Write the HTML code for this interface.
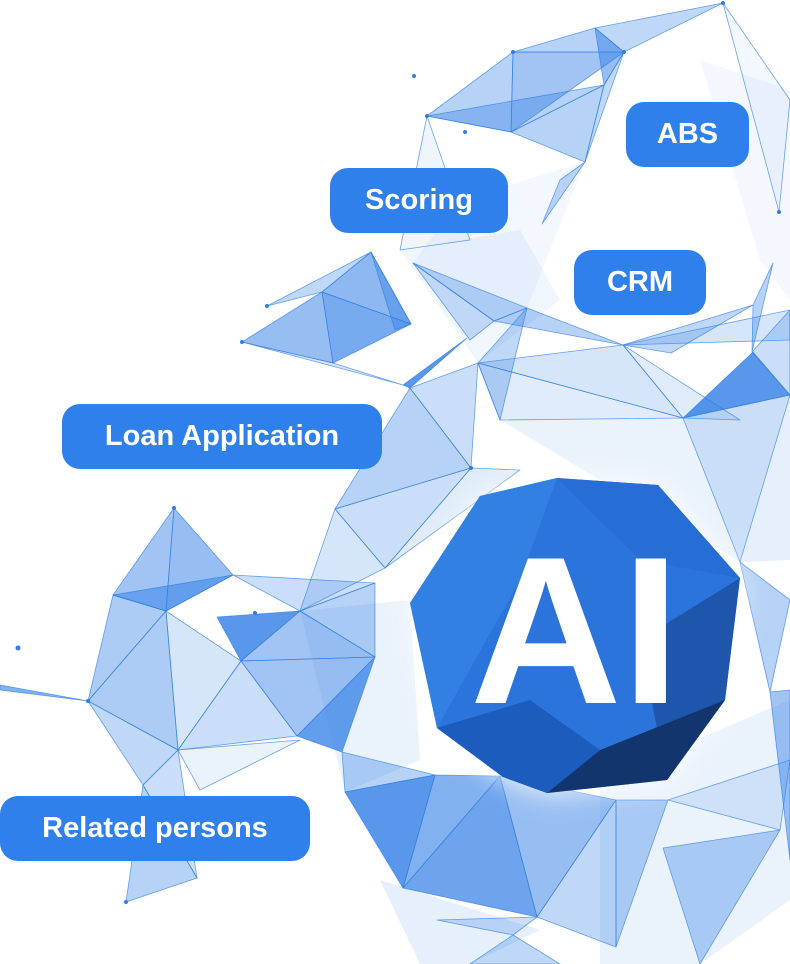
<!DOCTYPE html>
<html><head><meta charset="utf-8"><style>
html,body{margin:0;padding:0;background:#fff;}
body{width:790px;height:964px;position:relative;overflow:hidden;font-family:"Liberation Sans",sans-serif;}
svg{position:absolute;left:0;top:0;}
.lb{position:absolute;background:#2f80ea;color:#fff;font-weight:bold;font-size:29px;border-radius:18px;display:flex;align-items:center;justify-content:center;height:65px;}
</style></head><body>
<svg width="790" height="964" viewBox="0 0 790 964">
<defs><filter id="gl" x="-30%" y="-30%" width="160%" height="160%"><feGaussianBlur stdDeviation="14"/></filter></defs>
<g fill="#2f7de6" stroke="#2f7de6" stroke-width="0.8" stroke-opacity="0.7" stroke-linejoin="round">
<!-- soft background fills -->
<polygon points="400,250 520,230 560,300 478,363" fill-opacity="0.07" stroke="none"/>
<polygon points="500,420 683,418 740,562 600,480" fill-opacity="0.1" stroke="none"/>
<polygon points="683,418 790,395 790,560 740,562" fill-opacity="0.12" stroke="none"/>
<polygon points="300,611 410,600 420,760 345,792" fill-opacity="0.1" stroke="none"/>
<polygon points="600,780 790,700 790,900 700,964 600,964" fill-opacity="0.1" stroke="none"/>
<polygon points="380,880 540,930 470,964 420,964" fill-opacity="0.12" stroke="none"/>
<polygon points="700,60 790,90 790,300 760,260" fill-opacity="0.05" stroke="none"/>
<polygon points="413,263 460,200 585,162 527,308" fill-opacity="0.06" stroke="none"/>
<!-- top cluster -->
<polygon points="427,116 513,52 511,132" fill-opacity="0.35"/>
<polygon points="513,52 595,28 624,52" fill-opacity="0.35"/>
<polygon points="595,28 723,3 624,52" fill-opacity="0.3"/>
<polygon points="513,52 624,52 511,132" fill-opacity="0.45"/>
<polygon points="595,28 624,52 604,85" fill-opacity="0.5"/>
<polygon points="427,116 604,85 511,132" fill-opacity="0.35"/>
<polygon points="511,132 604,85 585,162" fill-opacity="0.35"/>
<polygon points="604,85 624,52 585,162" fill-opacity="0.3"/>
<polygon points="585,162 542,224 560,180" fill-opacity="0.3"/>
<polygon points="723,3 790,100 779,212" fill-opacity="0.06"/>
<polygon points="427,116 400,250 470,240" fill-opacity="0.08"/>
<!-- scoring cluster -->
<polygon points="242,342 322,292 333,363" fill-opacity="0.5"/>
<polygon points="322,292 371,252 411,324" fill-opacity="0.55"/>
<polygon points="322,292 411,324 333,363" fill-opacity="0.65"/>
<polygon points="242,342 333,363 403,385" fill-opacity="0.2"/>
<polygon points="267,306 371,252 322,292" fill-opacity="0.3"/>
<polygon points="371,252 411,324 395,330" fill-opacity="0.4"/>
<polygon points="403,385 467,338 410,388" fill-opacity="0.8"/>
<polygon points="413,263 527,308 494,321" fill-opacity="0.35"/>
<polygon points="413,263 494,321 470,340" fill-opacity="0.25"/>
<polygon points="494,321 527,308 623,345" fill-opacity="0.35"/>
<polygon points="478,363 527,308 500,420" fill-opacity="0.3"/>
<polygon points="478,363 623,345 683,418" fill-opacity="0.2"/>
<polygon points="478,363 683,418 500,420" fill-opacity="0.15"/>
<polygon points="623,345 753,305 671,353" fill-opacity="0.3"/>
<polygon points="623,345 790,310 790,340" fill-opacity="0.2"/>
<polygon points="683,418 753,352 790,395" fill-opacity="0.8"/>
<polygon points="753,305 773,263 752,352" fill-opacity="0.35"/>
<polygon points="752,352 790,310 790,395" fill-opacity="0.25"/>
<polygon points="683,418 790,395 740,562" fill-opacity="0.15"/>
<polygon points="623,345 683,418 740,420" fill-opacity="0.15"/>
<!-- loan/middle -->
<polygon points="410,388 471,468 335,509" fill-opacity="0.35"/>
<polygon points="410,388 478,363 471,468" fill-opacity="0.25"/>
<polygon points="335,509 471,468 385,568" fill-opacity="0.25"/>
<polygon points="471,468 520,470 385,568" fill-opacity="0.15"/>
<polygon points="300,611 335,509 385,568" fill-opacity="0.2"/>
<!-- left cluster -->
<polygon points="174,508 113,595 166,611" fill-opacity="0.45"/>
<polygon points="174,508 233,575 166,611" fill-opacity="0.5"/>
<polygon points="113,595 233,575 166,611" fill-opacity="0.5"/>
<polygon points="113,595 166,611 88,701" fill-opacity="0.4"/>
<polygon points="166,611 178,750 88,701" fill-opacity="0.4"/>
<polygon points="166,611 241,661 178,750" fill-opacity="0.2"/>
<polygon points="88,701 178,750 143,785" fill-opacity="0.3"/>
<polygon points="233,575 375,583 300,611" fill-opacity="0.25"/>
<polygon points="217,617 300,611 241,661" fill-opacity="0.8"/>
<polygon points="241,661 300,611 375,657" fill-opacity="0.45"/>
<polygon points="241,661 375,657 297,736" fill-opacity="0.45"/>
<polygon points="297,736 375,657 342,752" fill-opacity="0.75"/>
<polygon points="300,611 375,583 375,657" fill-opacity="0.35"/>
<polygon points="178,750 297,736 241,661" fill-opacity="0.25"/>
<polygon points="143,785 178,750 197,878" fill-opacity="0.25"/>
<polygon points="126,902 197,878 143,785" fill-opacity="0.35"/>
<polygon points="178,750 300,740 200,790" fill-opacity="0.1"/>
<polygon points="0,685 88,701 0,690" fill-opacity="0.6"/>
<!-- bottom cluster -->
<polygon points="345,792 435,775 403,888" fill-opacity="0.8"/>
<polygon points="435,775 500,776 403,888" fill-opacity="0.6"/>
<polygon points="500,776 537,917 403,888" fill-opacity="0.7"/>
<polygon points="500,776 616,800 537,917" fill-opacity="0.5"/>
<polygon points="616,800 668,800 616,947" fill-opacity="0.35"/>
<polygon points="537,917 616,947 616,800" fill-opacity="0.3"/>
<polygon points="342,752 435,775 345,792" fill-opacity="0.35"/>
<polygon points="437,920 537,917 513,935" fill-opacity="0.25"/>
<polygon points="513,935 560,964 470,964" fill-opacity="0.3"/>
<polygon points="663,848 780,830 700,964" fill-opacity="0.35"/>
<polygon points="740,562 790,600 770,692" fill-opacity="0.35"/>
<polygon points="770,692 790,690 790,860" fill-opacity="0.45"/>
<polygon points="668,800 790,760 780,830" fill-opacity="0.15"/>
</g>
<g fill="#2f7de6">
<circle cx="414" cy="76" r="2"/><circle cx="465" cy="132" r="2"/><circle cx="779" cy="212" r="2"/>
<circle cx="18" cy="648" r="2.5"/><circle cx="255" cy="613" r="2"/><circle cx="723" cy="3" r="2"/>
<circle cx="427" cy="116" r="2"/><circle cx="513" cy="52" r="2"/><circle cx="624" cy="52" r="2"/>
<circle cx="242" cy="342" r="2"/><circle cx="267" cy="306" r="2"/><circle cx="471" cy="468" r="2"/>
<circle cx="174" cy="508" r="2"/><circle cx="88" cy="701" r="2"/><circle cx="126" cy="902" r="2"/>
</g>
<!-- AI gem -->
<polygon points="480,496 557,478 658,485 740,578 725,700 667,780 547,793 503,777 437,728 410,603" fill="#ffffff" opacity="0.9" filter="url(#gl)"/>
<polygon points="480,496 557,478 658,485 740,578 725,700 667,780 547,793 503,777 437,728 410,603" fill="#2b74dc"/>
<polygon points="410,603 480,496 557,478 520,580 437,728" fill="#3180e2"/>
<polygon points="557,478 658,485 740,578 640,560" fill="#266dd6"/>
<polygon points="640,640 740,578 725,700 667,780" fill="#1d56aa"/>
<polygon points="725,700 667,780 547,793 600,750" fill="#13356e"/>
<polygon points="503,777 437,728 530,700 600,750 547,793" fill="#1c5cbc"/>
<text x="575" y="703" font-family="Liberation Sans,sans-serif" font-weight="bold" font-size="210" fill="#fff" text-anchor="middle">AI</text>
</svg>
<div class="lb" style="left:330px;top:168px;width:178px;">Scoring</div>
<div class="lb" style="left:626px;top:102px;width:123px;">ABS</div>
<div class="lb" style="left:574px;top:250px;width:132px;">CRM</div>
<div class="lb" style="left:62px;top:404px;width:320px;">Loan Application</div>
<div class="lb" style="left:0px;top:796px;width:310px;">Related persons</div>
</body></html>
